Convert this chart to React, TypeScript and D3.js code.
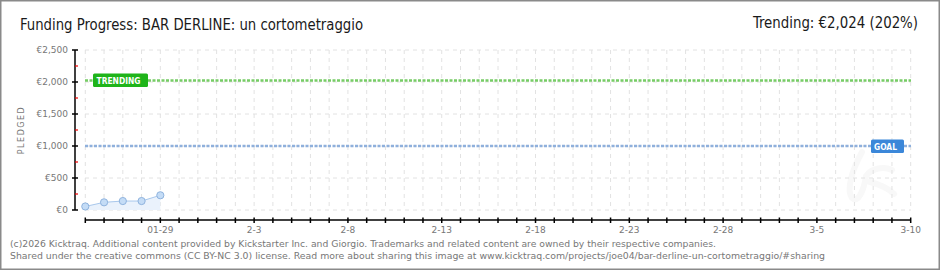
import React from "react";
import * as d3 from "d3";

const W = 940;
const H = 270;

const pointDates = ["2026-01-25", "2026-01-26", "2026-01-27", "2026-01-28", "2026-01-29"];
const pledged = [55, 120, 140, 140, 230];
const goalValue = 1000;
const trendingValue = 2024;
const yTicks = [0, 500, 1000, 1500, 2000, 2500];
const yTickLabels = ["€0", "€500", "€1,000", "€1,500", "€2,000", "€2,500"];
const yMinorTicks = [250, 750, 1250, 1750, 2250];
const xTickDates = ["2026-01-29", "2026-02-03", "2026-02-08", "2026-02-13", "2026-02-18", "2026-02-23", "2026-02-28", "2026-03-05", "2026-03-10"];
const xTickLabels = ["01-29", "2-3", "2-8", "2-13", "2-18", "2-23", "2-28", "3-5", "3-10"];
const domainStart = "2026-01-25";
const domainEnd = "2026-03-10";

const titleText = "Funding Progress: BAR DERLINE: un cortometraggio";
const trendText = "Trending: €2,024 (202%)";
const footer1 = "(c)2026 Kicktraq. Additional content provided by Kickstarter Inc. and Giorgio. Trademarks and related content are owned by their respective companies.";
const footer2 = "Shared under the creative commons (CC BY-NC 3.0) license. Read more about sharing this image at www.kicktraq.com/projects/joe04/bar-derline-un-cortometraggio/#sharing";

const parse = (s: string) => new Date(s + "T00:00:00Z");

export default function App() {
  const x = d3.scaleUtc().domain([parse(domainStart), parse(domainEnd)]).range([85.3, 910.7]);
  const y = d3.scaleLinear().domain([0, 2500]).range([210, 50]);

  const days = d3.utcDay.range(parse(domainStart), d3.utcDay.offset(parse(domainEnd), 1));
  const pts = pointDates.map((d, i) => ({ d: parse(d), v: pledged[i] }));
  const line = d3.line<any>().x((p) => x(p.d)).y((p) => y(p.v));
  const area = d3.area<any>().x((p) => x(p.d)).y0(y(0)).y1((p) => y(p.v));

  const axisY = 220;
  const font = "'DejaVu Sans', Verdana, sans-serif";
  const titleFont = "'Liberation Sans Narrow', 'DejaVu Sans Condensed', 'Roboto', sans-serif";

  return (
    <svg width={W} height={H} style={{ position: "absolute", left: 0, top: 0, display: "block" }}>
      <rect x={0} y={0} width={W} height={H} fill="#fff" />
      <rect x={0.75} y={0.75} width={W - 1.5} height={H - 1.5} fill="none" stroke="#8a8a8a" strokeWidth={1.5} />

      <text x={20} y={30} fontFamily={titleFont} fontSize={16} fill="#1a1a1a" textLength={343} lengthAdjust="spacingAndGlyphs">
        {titleText}
      </text>
      <text x={918} y={28} fontFamily={titleFont} fontSize={16} fill="#1a1a1a" textAnchor="end" textLength={165} lengthAdjust="spacingAndGlyphs">
        {trendText}
      </text>

      {/* watermark */}
      <path d="M862,152 C852,170 846,190 852,198 C858,204 864,190 866,176 C872,168 884,166 892,170 M870,182 C878,184 888,188 894,194"
        fill="none" stroke="#f8f8f8" strokeWidth={6} strokeLinecap="round" />

      {/* vertical grid */}
      {days.map((d, i) => (
        <line key={"vg" + i} x1={x(d)} x2={x(d)} y1={50} y2={210} stroke="#e2e2e2" strokeWidth={1} strokeDasharray="4 4" />
      ))}
      {/* horizontal grid */}
      {yTicks.map((t, i) => (
        <line key={"hg" + i} x1={85} x2={911} y1={y(t)} y2={y(t)} stroke="#e2e2e2" strokeWidth={1} strokeDasharray="4 4" />
      ))}

      {/* y axis */}
      <line x1={75} x2={75} y1={50} y2={210} stroke="#000" strokeWidth={1.5} />
      {yTicks.map((t, i) => (
        <g key={"yt" + i}>
          <line x1={72} x2={78} y1={y(t)} y2={y(t)} stroke="#000" strokeWidth={1.5} />
          <text x={68} y={y(t)} dy="0.35em" textAnchor="end" fontFamily={font} fontSize={9} fill="#777">
            {yTickLabels[i]}
          </text>
        </g>
      ))}
      {yMinorTicks.map((t, i) => (
        <line key={"ym" + i} x1={75} x2={78} y1={y(t)} y2={y(t)} stroke="#e00" strokeWidth={1.2} />
      ))}
      <text transform="translate(24,130) rotate(-90)" textAnchor="middle" fontFamily={font} fontSize={8} fill="#777" letterSpacing={1.5}>
        PLEDGED
      </text>

      {/* x axis */}
      <line x1={85} x2={911} y1={axisY} y2={axisY} stroke="#000" strokeWidth={1.5} />
      {days.map((d, i) => (
        <line key={"xt" + i} x1={x(d)} x2={x(d)} y1={axisY - 2.5} y2={axisY + 3} stroke="#000" strokeWidth={1.5} />
      ))}
      {xTickDates.map((d, i) => (
        <text key={"xl" + i} x={x(parse(d))} y={233} textAnchor="middle" fontFamily={font} fontSize={9} fill="#777">
          {xTickLabels[i]}
        </text>
      ))}

      {/* goal & trending lines */}
      <line x1={85} x2={911} y1={y(goalValue)} y2={y(goalValue)} stroke="#8fb0dc" strokeWidth={2.5} strokeDasharray="3 1.5" />
      <line x1={85} x2={911} y1={y(trendingValue)} y2={y(trendingValue)} stroke="#77cc66" strokeWidth={2.5} strokeDasharray="3 1.5" />

      {/* data */}
      <path d={area(pts) || ""} fill="#eaf2fc" />
      <path d={line(pts) || ""} fill="none" stroke="#a9c8ec" strokeWidth={1} />
      {pts.map((p, i) => (
        <circle key={"pt" + i} cx={x(p.d)} cy={y(p.v)} r={3.6} fill="#c4dcf6" stroke="#8fb3de" strokeWidth={1} />
      ))}

      {/* labels */}
      <rect x={93} y={73.5} width={55} height={13.5} rx={1.5} fill="#1fb41a" />
      <text x={96.5} y={83.8} fontFamily={font} fontSize={8.5} fontWeight="bold" fill="#fff" textLength={44} lengthAdjust="spacingAndGlyphs">
        TRENDING
      </text>
      <rect x={871} y={139.5} width={33} height={13.5} rx={1.5} fill="#3b87d9" />
      <text x={874} y={149.8} fontFamily={font} fontSize={8.5} fontWeight="bold" fill="#fff" textLength={23} lengthAdjust="spacingAndGlyphs">
        GOAL
      </text>

      {/* footer */}
      <text x={10} y={246.5} fontFamily={font} fontSize={9.5} fill="#777" textLength={706} lengthAdjust="spacingAndGlyphs">
        {footer1}
      </text>
      <text x={10} y={259} fontFamily={font} fontSize={9.5} fill="#777" textLength={815} lengthAdjust="spacingAndGlyphs">
        {footer2}
      </text>
    </svg>
  );
}
